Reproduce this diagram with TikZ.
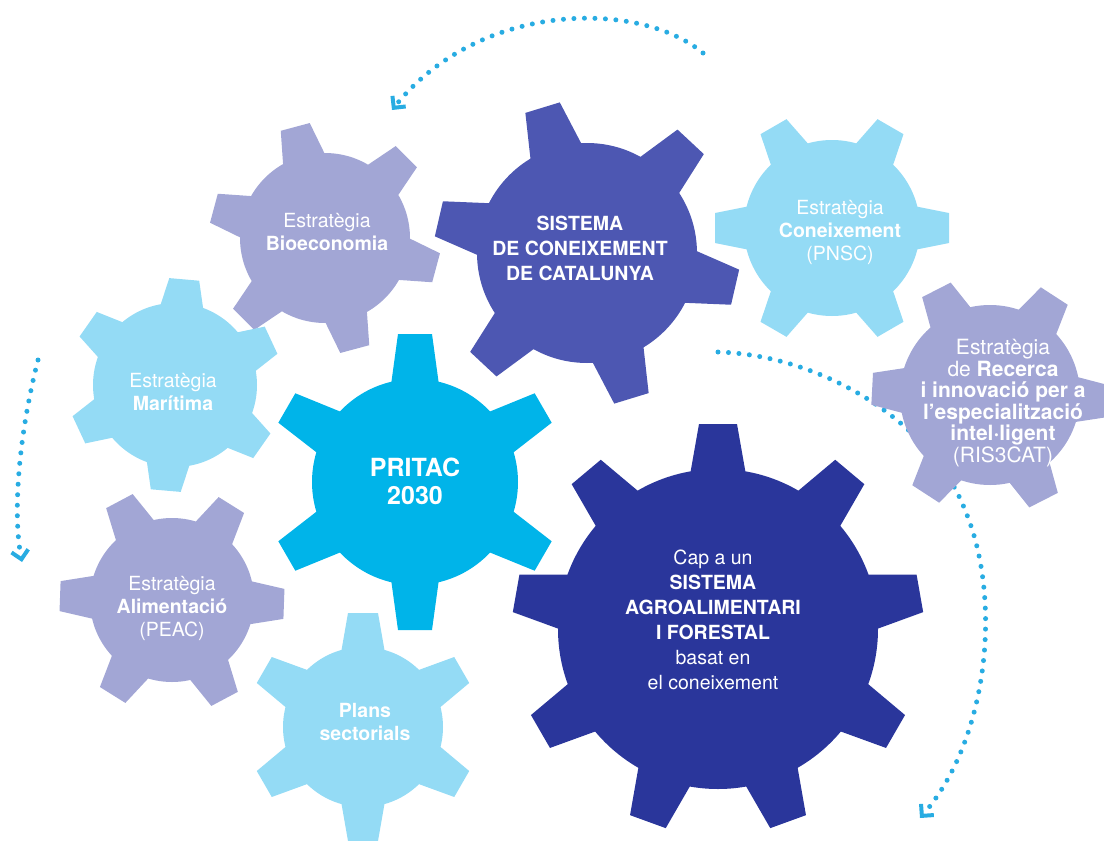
\documentclass[tikz,border=0pt]{standalone}
\usepackage{fontspec}
\setmainfont{TeX Gyre Heros}
\usetikzlibrary{arrows.meta}
\definecolor{lav}{RGB}{162,166,213}
\definecolor{lblue}{RGB}{148,219,245}
\definecolor{mblue}{RGB}{77,87,178}
\definecolor{cyanc}{RGB}{0,180,233}
\definecolor{dblue}{RGB}{42,54,155}
\definecolor{dotc}{RGB}{40,172,226}
% #1 x, #2 y, #3 inner r, #4 outer R, #5 teeth, #6 rotation, #7 tip half width, #8 base half width, #9 colour
\newcommand\drawgear[9]{%
  \begin{scope}[shift={(#1,#2)}]
    \fill[#9] (0,0) circle[radius=#3];
    \foreach \k in {1,...,#5}{
      \fill[#9, rotate={#6+360*(\k-1)/#5}] (#3-6,-#8) -- (#4,-#7) -- (#4,#7) -- (#3-6,#8) -- cycle;
    }
  \end{scope}}
\begin{document}
\begin{tikzpicture}[x=1pt,y=-1pt,
  gtext/.style={text=white, align=center, font=\fontsize{19.5}{23}\selectfont, inner sep=0pt},
  dots/.style={draw=dotc, line width=5pt, line cap=round, dash pattern=on 0pt off 10.5pt},
  tipstyle/.style={-{Straight Barb[angle=90:12pt, line width=4pt]}}]
\useasboundingbox (0,0) rectangle (1104,841);

% dotted arrows
\coordinate (a1s) at (703,53);
\coordinate (a1e) at (392,110);
\draw[dots, tipstyle] (a1s) .. controls (640,0) and (480,0) .. (a1e);
\coordinate (a2s) at (38,360);
\coordinate (a2e) at (22,562);
\draw[dots, tipstyle] (a2s) .. controls (20,430) and (12,510) .. (a2e);
\coordinate (a3s) at (718,352);
\coordinate (a3m) at (965,510);
\coordinate (a3e) at (920,818);
\draw[dots, tipstyle] (a3s) .. controls (820,355) and (930,420) .. (a3m) .. controls (1003,600) and (988,740) .. (a3e);

% gears
\drawgear{325}{238}{85}{115}{6}{105}{15}{22}{lav}
\drawgear{587}{253}{110}{152}{6}{107}{18}{27}{mblue}
\drawgear{832}{228}{88}{117}{6}{0}{15}{22}{lblue}
\drawgear{990}{395}{90}{118}{6}{-3}{16}{23}{lav}
\drawgear{175}{385}{82}{106}{6}{85}{15}{22}{lblue}
\drawgear{172}{600}{82}{112}{6}{-2}{15}{22}{lav}
\drawgear{363}{727}{80}{114}{6}{90}{15}{22}{lblue}
\drawgear{415}{482}{103}{148}{6}{90}{17}{24}{cyanc}
\drawgear{718}{629}{160}{205}{9}{90}{19}{28}{dblue}

% texts
\node[gtext] (tA) at (327,232) {Estratègia\\\textbf{Bioeconomia}};
\node[gtext, font=\bfseries\fontsize{19.5}{25}\selectfont] (tB) at (580,248) {SISTEMA\\DE CONEIXEMENT\\DE CATALUNYA};
\node[gtext] (tC) at (840,232) {Estratègia\\\textbf{Coneixement}\\(PNSC)};
\node[gtext, font=\fontsize{21}{21.5}\selectfont] (tD) at (1003,403) {Estratègia\\de \textbf{Recerca}\\\textbf{i innovació per a}\\\textbf{l’especialització}\\\textbf{intel·ligent}\\(RIS3CAT)};
\node[gtext] (tE) at (173,392) {Estratègia\\\textbf{Marítima}};
\node[gtext] (tF) at (172,608) {Estratègia\\\textbf{Alimentació}\\(PEAC)};
\node[gtext, font=\bfseries\fontsize{19.5}{23}\selectfont] (tG) at (365,722) {Plans\\sectorials};
\node[gtext, font=\bfseries\fontsize{25}{28}\selectfont] (tH) at (415,481) {PRITAC\\2030};
\node[gtext, font=\fontsize{19.5}{25}\selectfont] (tI) at (713,620) {Cap a un\\\textbf{SISTEMA}\\\textbf{AGROALIMENTARI}\\\textbf{I FORESTAL}\\basat en\\el coneixement};
\end{tikzpicture}
\end{document}
